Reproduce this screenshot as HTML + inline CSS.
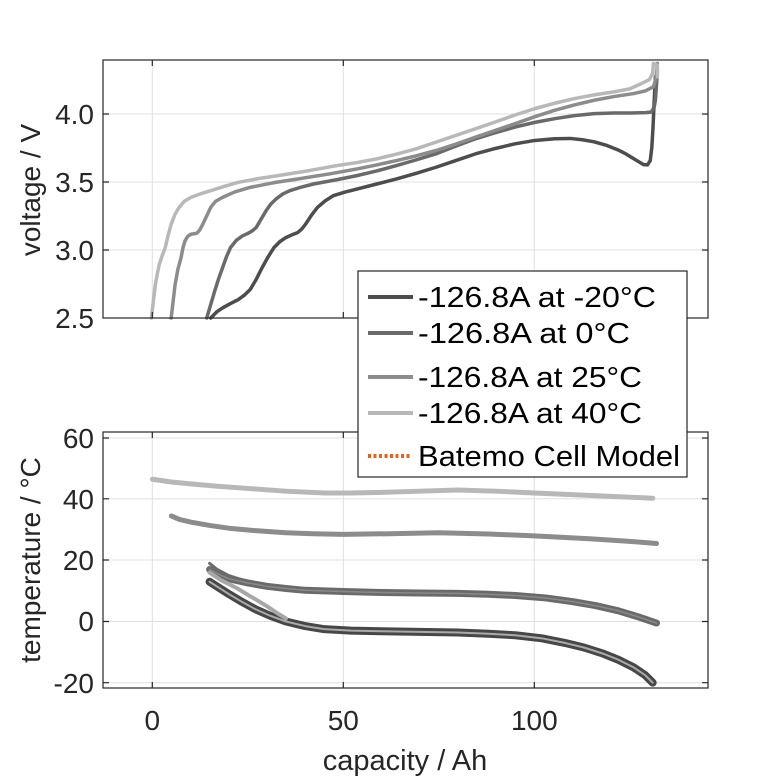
<!DOCTYPE html>
<html><head><meta charset="utf-8"><style>
html,body{margin:0;padding:0;background:#fff;}
svg{display:block;font-family:"Liberation Sans",Arial,sans-serif;}
polyline{fill:none;stroke-linejoin:round;stroke-linecap:round;vector-effect:non-scaling-stroke;}
</style></head><body>
<svg width="781" height="781" viewBox="0 0 781 781" xmlns="http://www.w3.org/2000/svg">
<rect width="781" height="781" fill="#fff"/>
<g stroke="#e0e0e0" stroke-width="1">
<line x1="152.3" y1="60" x2="152.3" y2="318"/><line x1="343.3" y1="60" x2="343.3" y2="318"/><line x1="534.3" y1="60" x2="534.3" y2="318"/>
<line x1="103" y1="114" x2="708" y2="114"/><line x1="103" y1="182" x2="708" y2="182"/><line x1="103" y1="250" x2="708" y2="250"/>
<line x1="152.3" y1="432" x2="152.3" y2="688"/><line x1="343.3" y1="432" x2="343.3" y2="688"/><line x1="534.3" y1="432" x2="534.3" y2="688"/>
<line x1="103" y1="438" x2="708" y2="438"/><line x1="103" y1="498.8" x2="708" y2="498.8"/><line x1="103" y1="560" x2="708" y2="560"/><line x1="103" y1="621.5" x2="708" y2="621.5"/><line x1="103" y1="682.7" x2="708" y2="682.7"/>
</g>
<g transform="translate(100,50) scale(0.3953,0.335)">
<polyline stroke="#4d4d4d" stroke-width="3.5" points="280,800 295,782 310,770 330,757 350,745 365,732 380,715 395,685 410,650 425,618 440,590 455,572 470,560 485,552 500,545 510,535 520,520 535,493 550,470 570,450 590,435 620,424 650,415 700,400 750,385 800,368 850,350 900,330 950,310 1000,294 1050,280 1100,270 1150,265 1190,264 1220,268 1250,274 1280,284 1310,298 1330,310 1355,328 1375,342 1385,343 1392,330 1396,290 1399,230 1402,150 1405,80"/>
<polyline stroke="#6a6a6a" stroke-width="3.5" points="270,800 280,760 290,720 300,683 310,650 320,617 330,590 345,568 360,555 375,547 385,540 395,530 405,510 420,480 432,460 445,445 462,430 480,420 510,409 540,400 600,387 650,375 700,361 750,345 800,328 850,310 900,287 950,265 1000,247 1050,230 1100,216 1150,205 1200,196 1250,190 1300,188 1340,188 1380,187 1395,185 1402,170 1405,150 1408,100 1410,60"/>
<polyline stroke="#8c8c8c" stroke-width="3.5" points="180,800 185,750 190,700 197,655 205,620 210,590 215,570 222,556 230,550 245,547 252,538 260,520 268,500 280,470 292,452 310,440 340,424 380,410 440,396 500,385 580,370 650,355 700,343 750,330 800,316 850,300 900,281 950,260 1000,240 1050,220 1100,199 1150,180 1200,164 1250,150 1300,139 1350,130 1380,122 1400,110 1405,90 1408,70 1410,40"/>
<polyline stroke="#b8b8b8" stroke-width="3.5" points="130,800 135,750 140,700 145,668 150,640 157,615 165,590 172,555 180,520 190,490 200,470 213,452 230,440 255,429 280,420 315,407 350,395 400,384 450,375 520,362 600,345 650,336 700,325 750,311 800,295 850,275 900,255 950,235 1000,215 1050,194 1100,175 1150,159 1200,145 1250,134 1300,125 1340,116 1370,100 1390,88 1398,70 1400,40 1410,45 1410,80"/>
</g>
<g transform="translate(152.3,621.5) scale(3.82,-3.059)">
<polyline stroke="#b8b8b8" stroke-width="5" points="0,46.5 5,45.6 10,45 17,44.2 25,43.5 35,42.6 45,42 52,42 60,42.2 70,42.6 80,43 90,42.6 100,42 115,41.2 131,40.3"/>
<polyline stroke="#8c8c8c" stroke-width="5" points="5,34.5 7,33.4 10,32.5 15,31.4 20,30.5 27,29.7 35,29 42,28.7 50,28.5 62,28.7 75,29 88,28.6 100,28 115,27 125,26.2 132,25.5"/>
<polyline stroke="#6a6a6a" stroke-width="3" points="15,19 17,17 20,15 25,13 30,11.5"/>
<polyline stroke="#474747" stroke-width="8" points="15,13 17.5,11 20,9 23.5,6.4 27,4 31,1.8 35,0 40,-1.5 45,-2.5 52,-3 60,-3.2 70,-3.4 80,-3.6 88,-4 95,-4.5 102,-5.5 108,-7 113,-8.5 118,-10.5 122,-12.5 126,-15 129,-17.5 131,-20"/>
<polyline stroke="#aaaaaa" stroke-width="2" points="15,13 17.5,11 20,9 23.5,6.4 27,4 31,1.8 35,0 40,-1.5 45,-2.5 52,-3 60,-3.2 70,-3.4 80,-3.6 88,-4 95,-4.5 102,-5.5 108,-7 113,-8.5 118,-10.5 122,-12.5 126,-15 129,-17.5 131,-20"/>
<polyline stroke="#6a6a6a" stroke-width="7" points="15,17 17.5,15.3 20,14 25,12.6 30,11.5 35,10.8 40,10.2 50,9.8 60,9.5 70,9.3 80,9.2 88,8.9 95,8.5 103,7.7 110,6.5 116,5.2 122,3.5 127,1.6 132,-0.5"/>
<polyline stroke="#8a8a8a" stroke-width="1.5" points="15,17 17.5,15.3 20,14 25,12.6 30,11.5 35,10.8 40,10.2 50,9.8 60,9.5 70,9.3 80,9.2 88,8.9 95,8.5 103,7.7 110,6.5 116,5.2 122,3.5 127,1.6 132,-0.5"/>
<polyline stroke="#a8a8a8" stroke-width="4" points="15,16 18,13.5 22,11 26,8 30,5 33,2.5 35,1"/>
</g>
<g stroke="#262626" stroke-width="1.2" fill="none">
<rect x="103" y="60" width="605" height="258"/>
<rect x="103" y="432" width="605" height="256"/>
<path d="M152.3 318v-6M343.3 318v-6M534.3 318v-6M152.3 60v6M343.3 60v6M534.3 60v6M103 114h6M103 182h6M103 250h6M708 114h-6M708 182h-6M708 250h-6"/>
<path d="M152.3 688v-6M343.3 688v-6M534.3 688v-6M152.3 432v6M343.3 432v6M534.3 432v6M103 438h6M103 498.8h6M103 560h6M103 621.5h6M103 682.7h6M708 438h-6M708 498.8h-6M708 560h-6M708 621.5h-6M708 682.7h-6"/>
</g>
<g fill="#262626" font-size="28" text-anchor="end">
<text x="94" y="124">4.0</text><text x="94" y="192">3.5</text><text x="94" y="260">3.0</text><text x="94" y="328">2.5</text>
<text x="94" y="448">60</text><text x="94" y="509">40</text><text x="94" y="570">20</text><text x="94" y="631">0</text><text x="94" y="693">-20</text>
</g>
<g fill="#262626" font-size="28" text-anchor="middle">
<text x="152.3" y="730">0</text><text x="343.3" y="730">50</text><text x="534.3" y="730">100</text>
<text x="405" y="770" font-size="29">capacity / Ah</text>
<text transform="translate(40,190) rotate(-90)">voltage / V</text>
<text transform="translate(40,560) rotate(-90)">temperature / °C</text>
</g>
<rect x="358" y="271" width="329" height="206" fill="#fff" stroke="#262626" stroke-width="1.2"/>
<g stroke-width="4">
<line x1="368" y1="297" x2="413" y2="297" stroke="#4d4d4d"/>
<line x1="368" y1="333" x2="413" y2="333" stroke="#6a6a6a"/>
<line x1="368" y1="377" x2="413" y2="377" stroke="#8c8c8c"/>
<line x1="368" y1="413" x2="413" y2="413" stroke="#b8b8b8"/>
<line x1="368" y1="456" x2="410" y2="456" stroke="#f06010" stroke-dasharray="3,2.5"/>
</g>
<g font-size="29" fill="#000">
<text x="418" y="307" textLength="238" lengthAdjust="spacingAndGlyphs">-126.8A at -20°C</text>
<text x="418" y="343" textLength="212" lengthAdjust="spacingAndGlyphs">-126.8A at 0°C</text>
<text x="418" y="387" textLength="224" lengthAdjust="spacingAndGlyphs">-126.8A at 25°C</text>
<text x="418" y="423" textLength="224" lengthAdjust="spacingAndGlyphs">-126.8A at 40°C</text>
<text x="418" y="466" textLength="262" lengthAdjust="spacingAndGlyphs">Batemo Cell Model</text>
</g>
</svg>
</body></html>
